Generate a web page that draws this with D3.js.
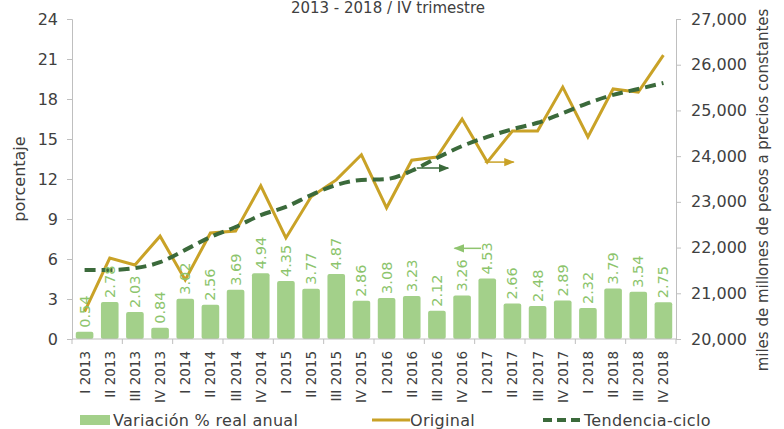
<!DOCTYPE html>
<html>
<head>
<meta charset="utf-8">
<script src="https://cdn.jsdelivr.net/npm/d3@7"></script>
<style>
  html, body { margin: 0; padding: 0; background: #fff; }
  svg text { font-family: "DejaVu Sans", sans-serif; }
</style>
</head>
<body>
<svg id="chart" width="784" height="429"></svg>
<script>
const categories = ["I 2013","II 2013","III 2013","IV 2013","I 2014","II 2014","III 2014","IV 2014",
  "I 2015","II 2015","III 2015","IV 2015","I 2016","II 2016","III 2016","IV 2016",
  "I 2017","II 2017","III 2017","IV 2017","I 2018","II 2018","III 2018","IV 2018"];
const variacion = [0.54,2.78,2.03,0.84,3.02,2.56,3.69,4.94,4.35,3.77,4.87,2.86,3.08,3.23,2.12,3.26,
  4.53,2.66,2.48,2.89,2.32,3.79,3.54,2.75];
const original = [20600,21770,21620,22250,21290,22320,22360,23350,22210,23110,23480,24030,
  22870,23910,23980,24810,23870,24550,24550,25510,24420,25470,25400,26210];
const tendencia = [21510,21510,21550,21680,21950,22230,22450,22710,22890,23150,23370,23480,
  23500,23680,23960,24220,24420,24590,24730,24940,25160,25340,25470,25600];
const leftTicks = [0,3,6,9,12,15,18,21,24];
const rightTicks = [20000,21000,22000,23000,24000,25000,26000,27000];
const title = "2013 - 2018 / IV trimestre";
const leftTitle = "porcentaje";
const rightTitle = "miles de millones de pesos a precios constantes";
const legendLabels = ["Variación % real anual","Original","Tendencia-ciclo"];
// annotation arrows: [fromIndex, toIndex, value, axis]
const arrows = [
  {x0: 13.2, x1: 14.45, v: 23740, axis: "right", color: "#3b6a3b"},
  {x0: 15.9, x1: 17.05, v: 23870, axis: "right", color: "#c9a227"},
  {x0: 15.75, x1: 14.7, v: 6.8, axis: "left", color: "#8fc46f"}
];

const colBar = "#a3d08a", colLabel = "#8cc46c", colOrig = "#c9a227", colTrend = "#3b6a3b", colAxis = "#bfbfbf";

const svg = d3.select("#chart");
const m = {left: 72, right: 676, top: 19, bottom: 339};

const x = d3.scaleBand().domain(categories).range([m.left, m.right]).paddingInner(0.3).paddingOuter(0.15);
const xc = i => m.left + (m.right - m.left) / categories.length * (i + 0.5);
const yL = d3.scaleLinear().domain([0, 24]).range([m.bottom, m.top]);
const yR = d3.scaleLinear().domain([20000, 27000]).range([m.bottom, m.top]);

// title
svg.append("text").attr("x", 388).attr("y", 13).attr("text-anchor", "middle")
  .attr("font-size", 15).attr("fill", "#404040").text(title);

// bars
const bw = x.bandwidth();
svg.append("g").selectAll("rect").data(variacion).join("rect")
  .attr("x", (d, i) => xc(i) - bw / 2).attr("width", bw)
  .attr("y", d => yL(d)).attr("height", d => yL(0) - yL(d))
  .attr("rx", 2).attr("fill", colBar);

// axes
const gL = svg.append("g").attr("transform", `translate(${m.left},0)`)
  .call(d3.axisLeft(yL).tickValues(leftTicks).tickSize(5).tickPadding(9));
const gR = svg.append("g").attr("transform", `translate(${m.right},0)`)
  .call(d3.axisRight(yR).tickValues(rightTicks).tickSize(5).tickPadding(10).tickFormat(d3.format(",")));
[gL, gR].forEach(g => {
  g.selectAll("path,line").attr("stroke", colAxis);
  g.selectAll("text").attr("font-size", 16).attr("fill", "#404040").attr("font-family", "DejaVu Sans");
});

// bottom axis
const gB = svg.append("g").attr("transform", `translate(0,${m.bottom})`);
gB.append("line").attr("x1", m.left).attr("x2", m.right).attr("stroke", colAxis);
const step = (m.right - m.left) / categories.length;
gB.selectAll("line.tk").data(d3.range(0, categories.length + 1, 2)).join("line").attr("class", "tk")
  .attr("x1", d => m.left + d * step).attr("x2", d => m.left + d * step)
  .attr("y1", 0).attr("y2", 5).attr("stroke", colAxis);
gB.selectAll("text").data(categories).join("text")
  .attr("transform", (d, i) => `translate(${xc(i) + 5},12) rotate(-90)`)
  .attr("text-anchor", "end").attr("font-size", 13.5).attr("fill", "#404040").text(d => d);

// lines
const lineR = d3.line().x((d, i) => xc(i)).y(d => yR(d));
svg.append("path").datum(original).attr("d", lineR).attr("fill", "none")
  .attr("stroke", colOrig).attr("stroke-width", 3).attr("stroke-linejoin", "miter");
svg.append("path").datum(tendencia).attr("d", d3.line().x((d, i) => xc(i)).y(d => yR(d)).curve(d3.curveMonotoneX))
  .attr("fill", "none").attr("stroke", colTrend).attr("stroke-width", 4).attr("stroke-dasharray", "11,6");

// value labels
svg.append("g").selectAll("text").data(variacion).join("text")
  .attr("transform", (d, i) => `translate(${xc(i) + 5},${yL(d) - 4}) rotate(-90)`)
  .attr("font-size", 14.5).attr("fill", colLabel).text(d => d.toFixed(2));

// arrows
const defs = svg.append("defs");
arrows.forEach((a, k) => {
  defs.append("marker").attr("id", "ah" + k).attr("viewBox", "0 0 10 10").attr("refX", 9).attr("refY", 5)
    .attr("markerWidth", 7).attr("markerHeight", 7).attr("orient", "auto")
    .append("path").attr("d", "M0,1 L10,5 L0,9 Z").attr("fill", a.color);
  const y = a.axis === "right" ? yR(a.v) : yL(a.v);
  svg.append("line").attr("x1", xc(a.x0)).attr("x2", xc(a.x1)).attr("y1", y).attr("y2", y)
    .attr("stroke", a.color).attr("stroke-width", 1.5).attr("marker-end", `url(#ah${k})`);
});

// axis titles
svg.append("text").attr("transform", `translate(25,${(m.top + m.bottom) / 2}) rotate(-90)`)
  .attr("text-anchor", "middle").attr("font-size", 16).attr("fill", "#404040").text(leftTitle);
svg.append("text").attr("transform", `translate(768,190) rotate(-90)`)
  .attr("text-anchor", "middle").attr("font-size", 15).attr("fill", "#404040").text(rightTitle);

// legend
const lg = svg.append("g").attr("font-size", 16).attr("letter-spacing", 0.3);
const ly = 420;
lg.append("rect").attr("x", 80).attr("y", ly - 5).attr("width", 30).attr("height", 10).attr("fill", colBar);
lg.append("text").attr("x", 113).attr("y", ly + 6).attr("fill", "#404040").text(legendLabels[0]);
lg.append("line").attr("x1", 372).attr("x2", 410).attr("y1", ly).attr("y2", ly).attr("stroke", colOrig).attr("stroke-width", 3);
lg.append("text").attr("x", 410).attr("y", ly + 6).attr("fill", "#404040").text(legendLabels[1]);
lg.append("line").attr("x1", 543).attr("x2", 583).attr("y1", ly).attr("y2", ly).attr("stroke", colTrend).attr("stroke-width", 4).attr("stroke-dasharray", "9,5");
lg.append("text").attr("x", 584).attr("y", ly + 6).attr("fill", "#404040").text(legendLabels[2]);
</script>
</body>
</html>
